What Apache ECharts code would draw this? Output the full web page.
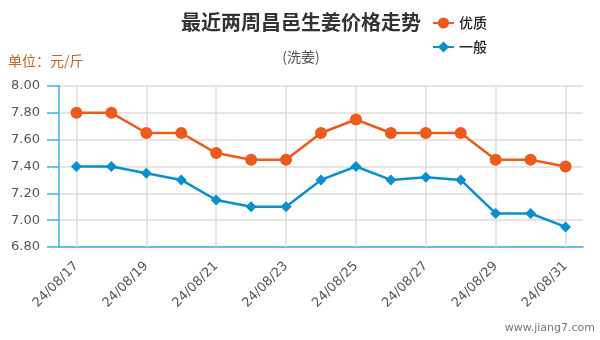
<!DOCTYPE html>
<html>
<head>
<meta charset="utf-8">
<script src="https://cdn.jsdelivr.net/npm/echarts@6/dist/echarts.min.js"></script>
<style>
html,body{margin:0;padding:0;background:#fff;}
#chart{width:600px;height:340px;}
</style>
</head>
<body>
<div id="chart"></div>
<script>
// Ginger price trend, Changyi, last two weeks (yuan per jin)
const categories = ['24/08/17','24/08/18','24/08/19','24/08/20','24/08/21','24/08/22','24/08/23','24/08/24','24/08/25','24/08/26','24/08/27','24/08/28','24/08/29','24/08/30','24/08/31'];
const premium = [7.80, 7.80, 7.65, 7.65, 7.50, 7.45, 7.45, 7.65, 7.75, 7.65, 7.65, 7.65, 7.45, 7.45, 7.40];
const ordinary = [7.40, 7.40, 7.35, 7.30, 7.15, 7.10, 7.10, 7.30, 7.40, 7.30, 7.32, 7.30, 7.05, 7.05, 6.95];
const yMin = 6.8, yMax = 8.0, yStep = 0.2;

const cjk = '"Microsoft YaHei","Noto Sans CJK SC",sans-serif';
const num = '"DejaVu Sans",Verdana,sans-serif';
const axisBlue = '#3bb4e6';
const gridGray = '#dcdcdc';

// vertical guides on every labelled day
const dayGuides = categories.filter((c, i) => i % 2 === 0).map(c => ({ xAxis: c }));

const chart = echarts.init(document.getElementById('chart'));
chart.setOption({
  animation: false,
  textStyle: { fontFamily: cjk },
  title: {
    text: '最近两周昌邑生姜价格走势',
    subtext: '(洗姜)',
    left: 296, top: 7, textAlign: 'center', itemGap: 18,
    textStyle: { fontSize: 20, fontWeight: 'bold', color: '#333', fontFamily: cjk },
    subtextStyle: { fontSize: 14, color: '#555', fontFamily: cjk }
  },
  legend: {
    orient: 'vertical', left: 427, top: 11, itemGap: 10,
    itemWidth: 21, itemHeight: 14,
    textStyle: { fontSize: 14, color: '#222', fontWeight: 500, fontFamily: cjk },
    data: ['优质', '一般']
  },
  graphic: [
    { type: 'text', left: 8, top: 54, style: { text: '单位：元/斤', fill: '#c8641e', fontSize: 14, fontFamily: cjk } },
    { type: 'text', right: 5, bottom: 6, style: { text: 'www.jiang7.com', fill: '#777', fontSize: 11, fontFamily: num } }
  ],
  grid: { left: 59, right: 17, top: 86, bottom: 93 },
  xAxis: {
    type: 'category', data: categories, boundaryGap: true,
    axisLine: { lineStyle: { color: axisBlue, width: 1.5 } },
    axisTick: { alignWithLabel: true, interval: 1, length: 11, lineStyle: { color: axisBlue, width: 1.5 } },
    axisLabel: { interval: 1, rotate: 45, color: '#555', fontSize: 13, fontFamily: num, margin: 17 },
    splitLine: { show: false }
  },
  yAxis: {
    type: 'value', min: yMin, max: yMax, interval: yStep,
    axisLine: { show: true, lineStyle: { color: axisBlue, width: 1.5 } },
    axisTick: { show: true, length: 12, lineStyle: { color: axisBlue, width: 1.5 } },
    axisLabel: { color: '#555', fontSize: 13, fontFamily: num, margin: 19, formatter: v => v.toFixed(2) },
    splitLine: { lineStyle: { color: gridGray, width: 1.5 } }
  },
  series: [
    {
      name: 'guides', type: 'line', data: [], silent: true,
      markLine: {
        z: 1, silent: true, symbol: 'none', label: { show: false },
        lineStyle: { color: gridGray, width: 1.5, type: 'solid' },
        emphasis: { disabled: true },
        data: dayGuides
      }
    },
    {
      name: '优质', type: 'line', data: premium, z: 3,
      symbol: 'circle', symbolSize: 12,
      itemStyle: { color: '#ec5a1c' },
      lineStyle: { color: '#ec5a1c', width: 2.5 }
    },
    {
      name: '一般', type: 'line', data: ordinary, z: 3,
      symbol: 'diamond', symbolSize: 11,
      itemStyle: { color: '#0a8fcf' },
      lineStyle: { color: '#0a8fcf', width: 2.5 }
    }
  ]
});
</script>
</body>
</html>
